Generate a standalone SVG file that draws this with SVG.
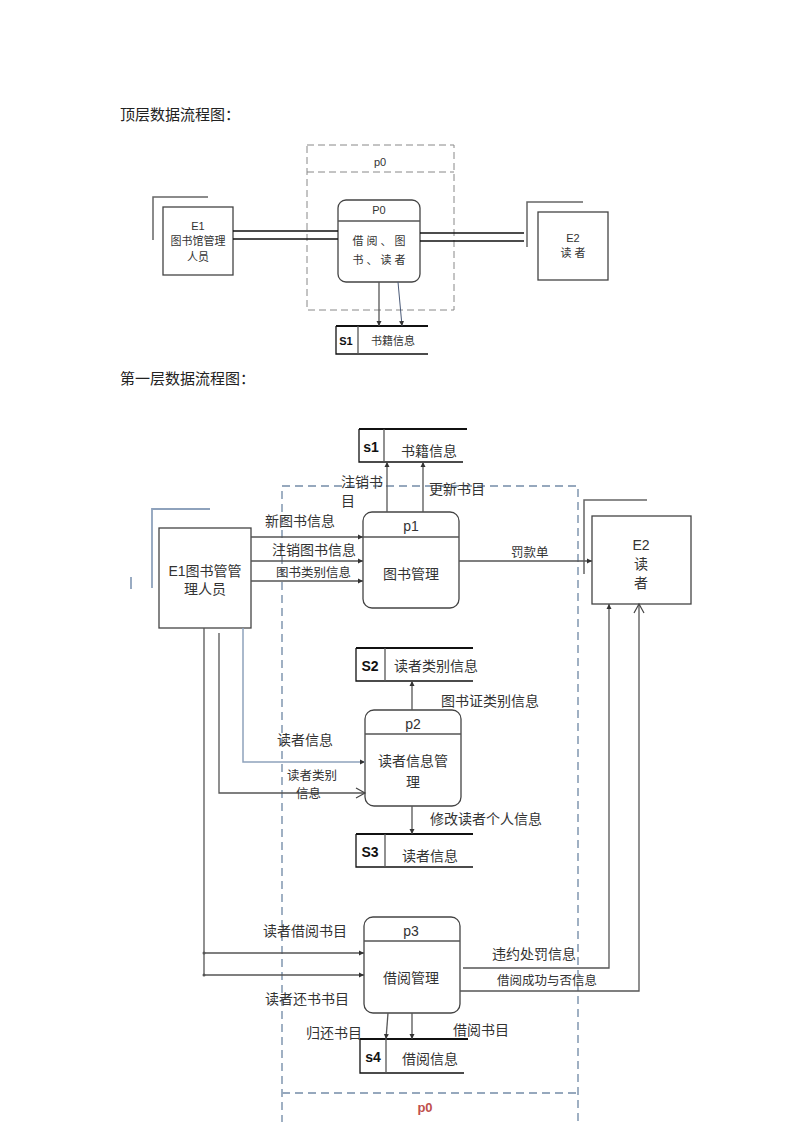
<svg xmlns="http://www.w3.org/2000/svg" width="793" height="1122" viewBox="0 0 793 1122">
<style>
text{font-family:"Liberation Sans","Noto Sans CJK SC",sans-serif;fill:#333}
.t{font-size:15px;fill:#222}
.s11{font-size:11px}
.s12{font-size:12.5px}
.s14{font-size:14px}
.b{font-weight:bold;fill:#111}
.ln{stroke:#555;stroke-width:1.3;fill:none}
.bk{stroke:#111;stroke-width:1.3;fill:none}
.thick{stroke:#111;stroke-width:2;fill:none}
.box{stroke:#444;stroke-width:1.3;fill:#fff}
.corner{stroke:#666;stroke-width:1.5;fill:none}
.bcorner{stroke:#8ea2bc;stroke-width:1.8;fill:none}
.dash{stroke:#888;stroke-width:1;stroke-dasharray:7,4;fill:none}
.bdash{stroke:#96a8bd;stroke-width:1.8;stroke-dasharray:8,5;fill:none}
.blue{stroke:#8ea2bc;stroke-width:1.5;fill:none}
</style>
<defs>
<marker id="a" markerUnits="userSpaceOnUse" markerWidth="6" markerHeight="6" refX="5" refY="3" orient="auto"><path d="M0,0.5 L5,3 L0,5.5 Z" fill="#333"/></marker>
<marker id="o" markerUnits="userSpaceOnUse" markerWidth="12" markerHeight="12" refX="10" refY="6" orient="auto"><path d="M1,1 L10,6 L1,11" fill="none" stroke="#444" stroke-width="1.2"/></marker>
</defs>

<text class="t" x="120" y="120">顶层数据流程图：</text>
<text class="t" x="120" y="384">第一层数据流程图：</text>

<!-- Top diagram -->
<g id="top-p0-frame">
<rect class="dash" x="307" y="145" width="147" height="165"/>
<line class="dash" x1="307" y1="172" x2="454" y2="172"/>
<text class="s11" x="380" y="166" text-anchor="middle">p0</text>
</g>
<g id="top-E1">
<path class="corner" d="M153,240 V197 H208"/>
<rect class="box" x="163" y="207" width="70" height="68"/>
<text class="s11" x="198" y="230" text-anchor="middle" fill="#222">E1</text>
<text class="s11" x="198" y="245" text-anchor="middle">图书馆管理</text>
<text class="s11" x="198" y="261" text-anchor="middle">人员</text>
</g>
<g id="top-P0">
<rect class="box" x="338" y="200" width="82" height="82" rx="8"/>
<line class="ln" x1="338" y1="221" x2="420" y2="221"/>
<text class="s11" x="379" y="214" text-anchor="middle">P0</text>
<text class="s11" x="379" y="245" text-anchor="middle">借 阅 、 图</text>
<text class="s11" x="379" y="264" text-anchor="middle">书 、 读 者</text>
</g>
<g id="top-E2">
<path class="corner" d="M527,247 V202 H583"/>
<rect class="box" x="538" y="212" width="70" height="68"/>
<text class="s11" x="573" y="242" text-anchor="middle" fill="#222">E2</text>
<text class="s11" x="573" y="257" text-anchor="middle">读 者</text>
</g>
<g id="top-S1">
<path class="bk" d="M428,354 H336 V326"/>
<line class="thick" x1="336" y1="326" x2="428" y2="326"/>
<line class="ln" x1="358" y1="326" x2="358" y2="354"/>
<text class="s11 b" x="346" y="345" text-anchor="middle">S1</text>
<text class="s11" x="393" y="345" text-anchor="middle">书籍信息</text>
</g>
<g id="top-connectors">
<line class="bk" x1="233" y1="231" x2="338" y2="231"/>
<line class="bk" x1="233" y1="239" x2="338" y2="239"/>
<line class="bk" x1="420" y1="233" x2="524" y2="233"/>
<line class="bk" x1="420" y1="241" x2="524" y2="241"/>
<line class="ln" x1="379" y1="282" x2="379" y2="326" marker-end="url(#a)"/>
<line stroke="#4a5a78" stroke-width="1" x1="398" y1="282" x2="402" y2="326" marker-end="url(#a)"/>
</g>

<!-- Level 1 diagram -->
<g id="p0-frame">
<rect class="bdash" x="282" y="486" width="296" height="640"/>
<line class="bdash" x1="282" y1="1093" x2="578" y2="1093"/>
<text x="425" y="1112" text-anchor="middle" font-size="13" font-weight="bold" style="fill:#c0504d">p0</text>
</g>

<g id="E1">
<path class="bcorner" d="M152,588 V509 H210"/>
<line class="bcorner" x1="131" y1="577" x2="131" y2="589"/>
<rect class="box" x="159" y="528" width="92" height="100"/>
<text class="s14" x="205" y="576" text-anchor="middle" fill="#222">E1图书管管</text>
<text class="s14" x="205" y="594" text-anchor="middle">理人员</text>
</g>

<g id="E2">
<path class="corner" d="M584,574 V500 H647"/>
<rect class="box" x="592" y="516" width="99" height="88"/>
<text class="s14" x="641" y="550" text-anchor="middle" fill="#222">E2</text>
<text class="s14" x="641" y="569" text-anchor="middle">读</text>
<text class="s14" x="641" y="588" text-anchor="middle">者</text>
</g>

<g id="s1">
<path class="bk" d="M463,462 H359 V429"/>
<line class="thick" x1="359" y1="429" x2="467" y2="429"/>
<line class="ln" x1="384" y1="429" x2="384" y2="462"/>
<text class="s14 b" x="371" y="452" text-anchor="middle">s1</text>
<text class="s14" x="429" y="456" text-anchor="middle">书籍信息</text>
</g>

<g id="p1">
<rect class="box" x="363" y="512" width="96" height="96" rx="9"/>
<line class="ln" x1="363" y1="537" x2="459" y2="537"/>
<text class="s14" x="411" y="531" text-anchor="middle" fill="#222">p1</text>
<text class="s14" x="411" y="579" text-anchor="middle">图书管理</text>
</g>

<g id="S2">
<path class="bk" d="M473,681 H356 V648"/>
<line class="thick" x1="356" y1="648" x2="473" y2="648"/>
<line class="ln" x1="385" y1="648" x2="385" y2="681"/>
<text class="s14 b" x="370" y="671" text-anchor="middle">S2</text>
<text class="s14" x="436" y="671" text-anchor="middle">读者类别信息</text>
</g>

<g id="p2">
<rect class="box" x="365" y="710" width="96" height="96" rx="9"/>
<line class="ln" x1="365" y1="734" x2="461" y2="734"/>
<text class="s14" x="413" y="729" text-anchor="middle" fill="#222">p2</text>
<text class="s14" x="413" y="766" text-anchor="middle">读者信息管</text>
<text class="s14" x="413" y="787" text-anchor="middle">理</text>
</g>

<g id="S3">
<path class="bk" d="M473,867 H356 V834"/>
<line class="thick" x1="356" y1="834" x2="473" y2="834"/>
<line class="ln" x1="385" y1="834" x2="385" y2="867"/>
<text class="s14 b" x="370" y="857" text-anchor="middle">S3</text>
<text class="s14" x="430" y="861" text-anchor="middle">读者信息</text>
</g>

<g id="p3">
<rect class="box" x="364" y="917" width="96" height="96" rx="9"/>
<line class="ln" x1="364" y1="941" x2="460" y2="941"/>
<text class="s14" x="411" y="936" text-anchor="middle" fill="#222">p3</text>
<text class="s14" x="411" y="983" text-anchor="middle">借阅管理</text>
</g>

<g id="s4">
<path class="bk" d="M464,1073 H360 V1039"/>
<line class="thick" x1="360" y1="1039" x2="468" y2="1039"/>
<line class="ln" x1="386" y1="1039" x2="386" y2="1073"/>
<text class="s14 b" x="373" y="1062" text-anchor="middle">s4</text>
<text class="s14" x="430" y="1064" text-anchor="middle">借阅信息</text>
</g>

<g id="connectors">
<!-- p1 to s1 -->
<line class="ln" x1="387" y1="512" x2="387" y2="462" marker-end="url(#a)"/>
<line class="ln" x1="423" y1="512" x2="423" y2="462" marker-end="url(#a)"/>
<!-- E1 to p1 -->
<line class="ln" x1="251" y1="537" x2="363" y2="537" marker-end="url(#a)"/>
<line class="ln" x1="251" y1="561" x2="363" y2="561" marker-end="url(#a)"/>
<line class="ln" x1="251" y1="581" x2="363" y2="581" marker-end="url(#a)"/>
<!-- p1 to E2 -->
<line class="ln" x1="459" y1="561" x2="592" y2="561" marker-end="url(#a)"/>
<!-- E1 to p2 -->
<path class="blue" d="M243,628 V762 H365" marker-end="url(#a)"/>
<path class="ln" d="M219,633 V793 H365" marker-end="url(#o)"/>
<!-- p2 to S2/S3 -->
<line class="ln" x1="412" y1="710" x2="412" y2="681" marker-end="url(#a)"/>
<line class="ln" x1="412" y1="806" x2="412" y2="834" marker-end="url(#a)"/>
<!-- E1 to p3 -->
<line class="ln" x1="204" y1="628" x2="204" y2="975"/>
<line class="ln" x1="204" y1="953" x2="364" y2="953" marker-end="url(#a)"/>
<line class="ln" x1="204" y1="975" x2="364" y2="975" marker-end="url(#a)"/>
<circle cx="204" cy="953" r="1.5" fill="#555"/>
<circle cx="204" cy="975" r="1.5" fill="#555"/>
<!-- p3 to s4 -->
<line class="ln" x1="388" y1="1013" x2="386" y2="1039" marker-end="url(#a)"/>
<line class="ln" x1="412" y1="1013" x2="412" y2="1039" marker-end="url(#a)"/>
<!-- p3 to E2 -->
<path class="ln" d="M463,968 H609 V604" marker-end="url(#a)"/>
<path class="ln" d="M460,991 H639 V604" marker-end="url(#o)"/>
</g>

<g id="labels">
<text class="s14" x="341" y="487">注销书</text>
<text class="s14" x="341" y="506">目</text>
<text class="s14" x="429" y="494">更新书目</text>
<text class="s14" x="265" y="526">新图书信息</text>
<text class="s14" x="272" y="555">注销图书信息</text>
<text class="s12" x="276" y="577">图书类别信息</text>
<text class="s12" x="511" y="557">罚款单</text>
<text class="s14" x="441" y="706">图书证类别信息</text>
<text class="s14" x="277" y="745">读者信息</text>
<text class="s12" x="287" y="780">读者类别</text>
<text class="s12" x="296" y="798">信息</text>
<text class="s14" x="430" y="824">修改读者个人信息</text>
<text class="s14" x="263" y="936">读者借阅书目</text>
<text class="s14" x="265" y="1004">读者还书书目</text>
<text class="s14" x="492" y="959">违约处罚信息</text>
<text class="s12" x="497" y="985">借阅成功与否信息</text>
<text class="s14" x="306" y="1038">归还书目</text>
<text class="s14" x="453" y="1035">借阅书目</text>
</g>
</svg>
